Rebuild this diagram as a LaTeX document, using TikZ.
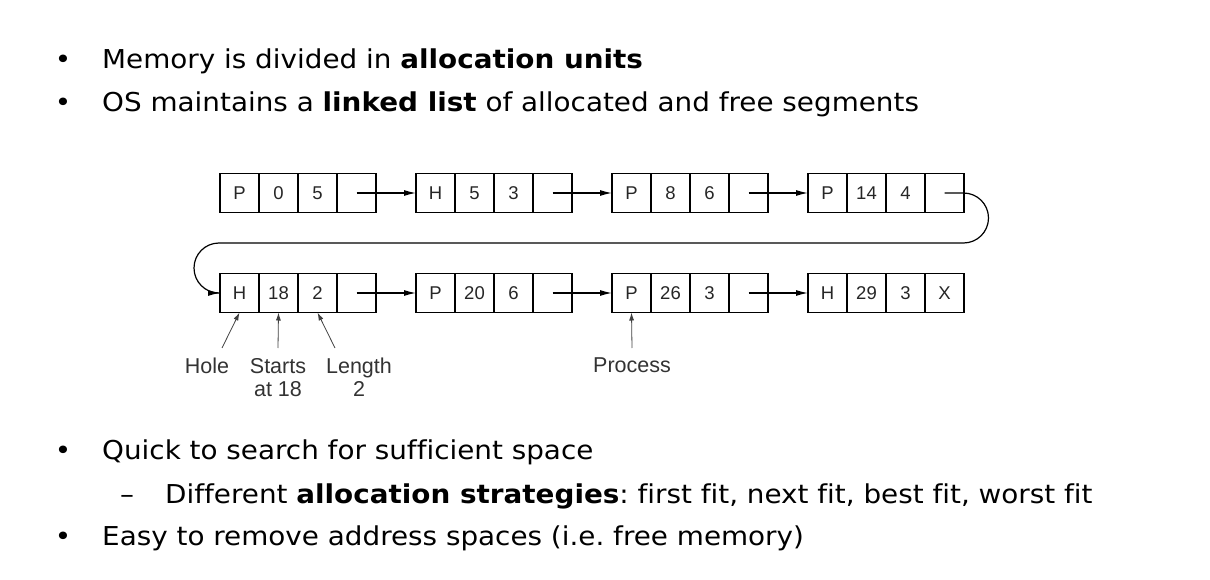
\documentclass[tikz,border=0pt]{standalone}
\usepackage{fontspec}
\setmainfont[FakeStretch=1.07,Ligatures=NoCommon]{DejaVu Sans}
\newfontfamily\diagfont{Liberation Sans}
\usetikzlibrary{positioning,calc,arrows.meta}

\tikzset{
  txt/.style={font=\fontsize{26}{30}\selectfont\frenchspacing, inner sep=0pt, anchor=base west},
  cell/.style={draw, line width=1.3pt, minimum width=39pt, minimum height=39pt,
    inner sep=0pt, outer sep=0pt, text=black!85, font=\diagfont\fontsize{18.5}{22}\selectfont},
  link/.style={line width=1.2pt, -{Latex[length=12pt,width=6pt]}},
  lbl/.style={inner sep=0pt, anchor=north, align=center, text=black!80,
    font=\diagfont\fontsize{21.5}{23}\selectfont},
  pointer/.style={line width=0.8pt, black!75, -{Latex[length=8pt,width=5pt]}}
}

\begin{document}
\begin{tikzpicture}[x=1pt,y=-1pt]
  \useasboundingbox (0,0) rectangle (1210,580);

  % Bullet points
  \node[txt, anchor=base] (d1) at (63,69) {•};
  \node[txt] (b1) at (102,69) {Memory is divided in \textbf{allocation units}};
  \node[txt, anchor=base] (d2) at (63,112) {•};
  \node[txt] (b2) at (102,112) {OS maintains a \textbf{linked list} of allocated and free segments};
  \node[txt, anchor=base] (d3) at (63,459) {•};
  \node[txt] (b3) at (102,459) {Quick to search for sufficient space};
  \node[txt, anchor=base] (d4) at (127,503) {–};
  \node[txt] (b4) at (165,503) {Different \textbf{allocation strategies}: first fit, next fit, best fit, worst fit};
  \node[txt, anchor=base] (d5) at (63,545) {•};
  \node[txt] (b5) at (102,545) {Easy to remove address spaces (i.e. free memory)};

  % Segments of the linked list
  \foreach \n/\t/\s/\l/\p [count=\i from 0] in
    {1/P/0/5/, 2/H/5/3/, 3/P/8/6/, 4/P/14/4/, 5/H/18/2/, 6/P/20/6/, 7/P/26/3/, 8/H/29/3/X} {
    \pgfmathsetmacro\bx{220+196*mod(\i,4)}
    \pgfmathsetmacro\by{193+100*int(\i/4)}
    \node[cell] (s\n a) at (\bx+19.5,\by) {\t};
    \node[cell, right=0pt of s\n a] (s\n b) {\s};
    \node[cell, right=0pt of s\n b] (s\n c) {\l};
    \node[cell, right=0pt of s\n c] (s\n d) {\p};
  }

  % Links
  \foreach \n [evaluate=\n as \m using int(\n+1)] in {1,2,3,5,6,7}
    \draw[link] (s\n d.center) -- (s\m a.west);
  \draw[link, rounded corners=25pt] (s4d.center) -- ++(44,0)
    |- ($(s5a.west)+(-26,-50)$) |- (s5a.west);

  % Labels
  \node[lbl] (hole) at (207,358) {Hole};
  \node[lbl] (starts) at (278,358) {Starts\\at 18};
  \node[lbl] (length) at (359,358) {Length\\2};
  \node[lbl] (proc) at (632,358) {Process};

  \draw[pointer] (hole.north) ++(15,-10) -- (s5a.south);
  \draw[pointer] (starts.north) ++(0,-10) -- (s5b.south);
  \draw[pointer] (length.north) ++(-24,-10) -- (s5c.south);
  \draw[pointer] (proc.north) ++(0,-10) -- (s7a.south);
\end{tikzpicture}
\end{document}
